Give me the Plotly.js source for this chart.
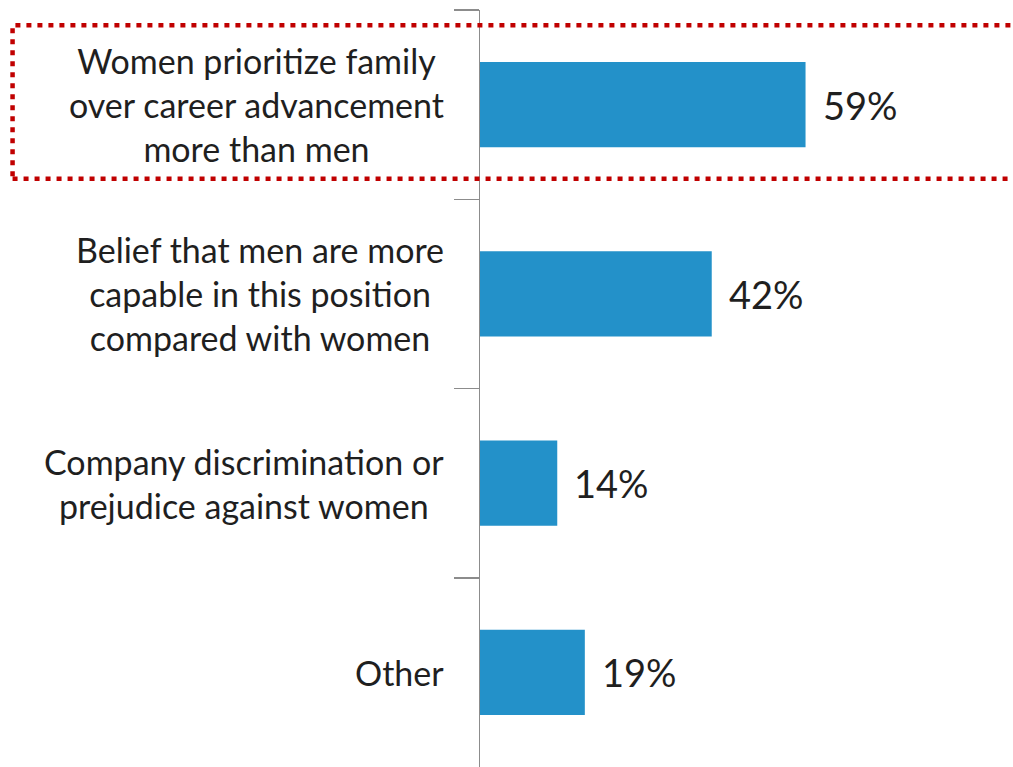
<!DOCTYPE html>
<html>
<head>
<meta charset="utf-8">
<script src="https://cdn.plot.ly/plotly-3.0.1.min.js"></script>
<style>html,body{margin:0;padding:0;background:#fff;}#chart{width:1013px;height:767px;}</style>
</head>
<body>
<div id="chart"></div>
<script>
var categories = [
  "Women prioritize family<br>over career advancement<br>more than men",
  "Belief that men are more<br>capable in this position<br>compared with women",
  "Company discrimination or<br>prejudice against women",
  "Other"
];
var values = [59, 42, 14, 19];
var valueLabels = ["59%", "42%", "14%", "19%"];

var FONT = "Lato, 'Open Sans', sans-serif";

var trace = {
  type: "bar",
  orientation: "h",
  x: values,
  y: categories,
  marker: {color: "#2391c9"},
  hoverinfo: "skip"
};

var annotations = [];
categories.forEach(function (c, i) {
  annotations.push({
    x: 0, y: c, xref: "x", yref: "y",
    text: c, showarrow: false,
    xanchor: "right", yanchor: "middle", align: "center",
    xshift: -34,
    font: {family: FONT, size: 34, color: "#1f1f1f"}
  });
  annotations.push({
    x: values[i], y: c, xref: "x", yref: "y",
    text: valueLabels[i], showarrow: false,
    xanchor: "left", yanchor: "middle",
    xshift: 15,
    font: {family: FONT, size: 38, color: "#1f1f1f"}
  });
});

var layout = {
  width: 1013, height: 767,
  margin: {l: 480, r: 0, t: 10, b: 0},
  paper_bgcolor: "#ffffff",
  plot_bgcolor: "#ffffff",
  showlegend: false,
  bargap: 0.55,
  xaxis: {
    range: [0, 96.6],
    showgrid: false, zeroline: false, showline: false,
    showticklabels: false, ticks: ""
  },
  yaxis: {
    type: "category",
    categoryorder: "array",
    categoryarray: categories,
    autorange: "reversed",
    showgrid: false, zeroline: false,
    showline: true, linecolor: "#8c8c8c", linewidth: 1.5,
    ticks: "outside", tickson: "boundaries", ticklen: 25,
    tickcolor: "#8c8c8c", tickwidth: 1.5,
    showticklabels: false
  },
  annotations: annotations,
  shapes: [{
    type: "rect", xref: "paper", yref: "paper",
    x0: -0.877, x1: 1.05, y0: 0.777, y1: 0.980,
    line: {color: "#c00000", width: 4.5, dash: "5px,6px"},
    fillcolor: "rgba(0,0,0,0)", layer: "above"
  }]
};

Plotly.newPlot("chart", [trace], layout, {displayModeBar: false, staticPlot: true});
</script>
</body>
</html>
